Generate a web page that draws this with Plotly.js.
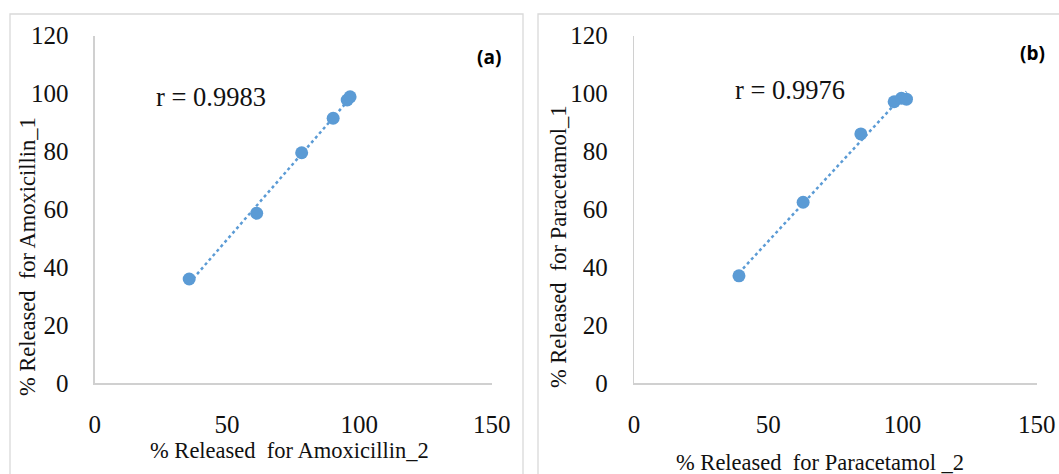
<!DOCTYPE html>
<html>
<head>
<meta charset="utf-8">
<script src="https://cdn.plot.ly/plotly-3.0.1.min.js"></script>
<style>html,body{margin:0;padding:0;background:#fff;}#chart{width:1059px;height:474px;}</style>
</head>
<body>
<div id="chart"></div>
<script>
// ---- data ----
const amoxicillin2 = [35.7, 61.2, 78.2, 90.1, 95.4, 96.5];
const amoxicillin1 = [36.0, 58.7, 79.6, 91.5, 97.8, 98.9];
const paracetamol2 = [39.1, 63.0, 84.5, 96.9, 99.6, 101.5];
const paracetamol1 = [37.1, 62.5, 86.1, 97.2, 98.4, 98.1];
const rLabels = ["r = 0.9983", "r = 0.9976"];
const panelLabels = ["(a)", "(b)"];
const xTitles = ["% Released  for Amoxicillin_2", "% Released  for Paracetamol _2"];
const yTitles = ["% Released  for Amoxicillin_1", "% Released  for Paracetamol_1"];
const xTicks = [0, 50, 100, 150];
const yTicks = [0, 20, 40, 60, 80, 100, 120];

const W = 1059, H = 474;
const px = x => x / W;
const py = y => (H - y) / H;
const BLUE = '#5B9BD5';
const SERIF = 'Liberation Serif, Times New Roman, serif';
const SANS = 'Open Sans, Liberation Sans, sans-serif';

function fit(xs, ys) {
  const n = xs.length;
  const mx = xs.reduce((a, b) => a + b, 0) / n;
  const my = ys.reduce((a, b) => a + b, 0) / n;
  let sxy = 0, sxx = 0;
  for (let i = 0; i < n; i++) { sxy += (xs[i] - mx) * (ys[i] - my); sxx += (xs[i] - mx) ** 2; }
  const b = sxy / sxx, a = my - b * mx;
  const lo = Math.min(...xs), hi = Math.max(...xs);
  return { x: [lo, hi], y: [a + b * lo, a + b * hi] };
}

const fa = fit(amoxicillin2, amoxicillin1);
const fb = fit(paracetamol2, paracetamol1);

const traces = [
  { x: fa.x, y: fa.y, mode: 'lines', line: { color: BLUE, width: 2.5, dash: 'dot' }, xaxis: 'x', yaxis: 'y', hoverinfo: 'skip' },
  { x: amoxicillin2, y: amoxicillin1, mode: 'markers', marker: { color: BLUE, size: 13 }, xaxis: 'x', yaxis: 'y' },
  { x: fb.x, y: fb.y, mode: 'lines', line: { color: BLUE, width: 2.5, dash: 'dot' }, xaxis: 'x2', yaxis: 'y2', hoverinfo: 'skip' },
  { x: paracetamol2, y: paracetamol1, mode: 'markers', marker: { color: BLUE, size: 13 }, xaxis: 'x2', yaxis: 'y2' }
];

const axCommon = {
  showgrid: false, zeroline: false, showline: true, linecolor: '#d0d0d0', linewidth: 1.3,
  ticks: '', tickfont: { family: SERIF, size: 25, color: '#111' }, fixedrange: true
};
const xa = Object.assign({}, axCommon, { range: [0, 150], tickvals: xTicks, ticklabelstandoff: 18 });
const ya = Object.assign({}, axCommon, { range: [0, 120], tickvals: yTicks, ticklabelstandoff: 20 });

const yDom = [py(383.3), py(35.7)];
const tfont = { family: SERIF, size: 22.5, color: '#111' };
const layout = {
  width: W, height: H,
  margin: { l: 0, r: 0, t: 0, b: 0 },
  paper_bgcolor: '#fff', plot_bgcolor: 'rgba(0,0,0,0)',
  showlegend: false,
  xaxis: Object.assign({}, xa, { domain: [px(94.7), px(491.7)], anchor: 'y' }),
  yaxis: Object.assign({}, ya, { domain: yDom, anchor: 'x' }),
  xaxis2: Object.assign({}, xa, { domain: [px(634), px(1036.7)], anchor: 'y2' }),
  yaxis2: Object.assign({}, ya, { domain: yDom, anchor: 'x2' }),
  shapes: [
    { type: 'rect', xref: 'paper', yref: 'paper', x0: px(10), x1: px(523), y0: py(480), y1: py(14), line: { color: '#d9d9d9', width: 1.3 } },
    { type: 'rect', xref: 'paper', yref: 'paper', x0: px(538), x1: px(1070), y0: py(480), y1: py(14), line: { color: '#d9d9d9', width: 1.3 } }
  ],
  annotations: [
    { text: rLabels[0], xref: 'paper', yref: 'paper', x: px(211), y: py(97), xanchor: 'center', yanchor: 'middle', showarrow: false, font: { family: SERIF, size: 26.5, color: '#111' } },
    { text: rLabels[1], xref: 'paper', yref: 'paper', x: px(790), y: py(90), xanchor: 'center', yanchor: 'middle', showarrow: false, font: { family: SERIF, size: 26.5, color: '#111' } },
    { text: '<b>' + panelLabels[0] + '</b>', xref: 'paper', yref: 'paper', x: px(489), y: py(57), xanchor: 'center', yanchor: 'middle', showarrow: false, font: { family: SANS, size: 19, color: '#000' } },
    { text: '<b>' + panelLabels[1] + '</b>', xref: 'paper', yref: 'paper', x: px(1032), y: py(53), xanchor: 'center', yanchor: 'middle', showarrow: false, font: { family: SANS, size: 19, color: '#000' } },
    { text: xTitles[0], xref: 'paper', yref: 'paper', x: px(289), y: py(450), xanchor: 'center', yanchor: 'middle', showarrow: false, font: tfont },
    { text: xTitles[1], xref: 'paper', yref: 'paper', x: px(820), y: py(462), xanchor: 'center', yanchor: 'middle', showarrow: false, font: tfont },
    { text: yTitles[0], xref: 'paper', yref: 'paper', x: px(28), y: py(257), xanchor: 'center', yanchor: 'middle', textangle: -90, showarrow: false, font: tfont },
    { text: yTitles[1], xref: 'paper', yref: 'paper', x: px(559), y: py(247), xanchor: 'center', yanchor: 'middle', textangle: -90, showarrow: false, font: tfont }
  ]
};

Plotly.newPlot('chart', traces, layout, { staticPlot: true, displayModeBar: false });
</script>
</body>
</html>
